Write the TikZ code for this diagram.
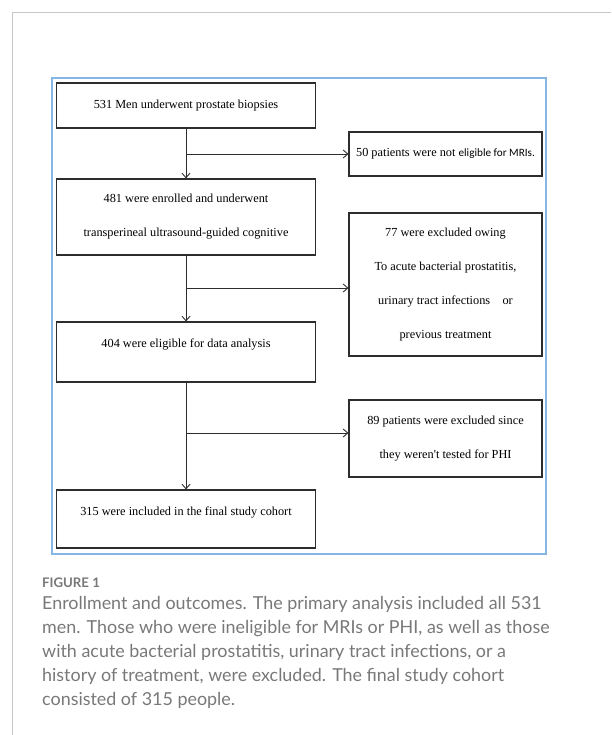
\documentclass[tikz,border=0pt]{standalone}
\usepackage{fontspec}
\setmainfont{Liberation Serif}
\newfontfamily\plainserif{Liberation Serif}[Ligatures=TeXOff]
\newfontfamily\calibrifont{Carlito}
\newfontfamily\captionfont{Lato}
\usetikzlibrary{positioning, arrows.meta}
\definecolor{framegray}{RGB}{200,200,200}
\definecolor{frameblue}{RGB}{132,182,230}
\definecolor{boxline}{RGB}{45,45,45}
\definecolor{captiongray}{RGB}{120,120,120}

\begin{document}
\begin{tikzpicture}[x=1pt, y=-1pt, node distance=110pt, >={Straight Barb[length=4.5pt,width=8pt]}]
    % Stili
    \tikzstyle{block} = [draw=boxline, line width=1.2pt, rectangle, minimum width=259pt, align=center, inner sep=0pt, font=\fontsize{12.3}{34}\selectfont]
    \tikzstyle{sidebox} = [block, minimum width=193pt]
    \tikzstyle{line} = [draw=boxline, line width=0.9pt]

    \useasboundingbox (0,0) rectangle (611,735);

    % Cornici
    \draw [framegray, line width=0.8pt] (611,12) -- (12,12) -- (12,735);
    \draw [frameblue, line width=1.2pt] (52,78) rectangle (546,554);

    % Nodi
    \node [block, minimum height=45pt] (men) at (186,105.5) {531 Men underwent prostate biopsies};
    \node [block, minimum height=76pt, below of=men, node distance=111.5pt] (enrolled) {481 were enrolled and underwent\\transperineal ultrasound-guided cognitive};
    \node [block, minimum height=60pt, text height=8pt, text depth=18pt, below of=enrolled, node distance=135pt] (eligible) {404 were eligible for data analysis};
    \node [block, minimum height=58pt, text height=8pt, text depth=16pt, below of=eligible, node distance=167pt] (cohort) {315 were included in the final study cohort};

    \node [sidebox, minimum height=44pt] (nomri) at (445.5,154) {50 patients were not {\calibrifont\fontsize{11.2}{12}\selectfont eligible for MRIs.}};
    \node [sidebox, minimum height=143pt, below of=nomri, node distance=130.5pt] (infection) {77 were excluded owing\\To acute bacterial prostatitis,\\urinary tract infections\ \ \ \ or\\previous treatment};
    \node [sidebox, minimum height=77pt, below of=infection, node distance=154pt] (nophi) {89 patients were excluded since\\they weren{\plainserif '}t tested for PHI};

    % Diramazioni
    \coordinate (split1) at (men.south |- nomri.west);
    \coordinate (split2) at (186,288);
    \coordinate (split3) at (186,433);

    % Collegamenti
    \draw [line, ->] (men) -- (enrolled);
    \draw [line, ->] (enrolled) -- (eligible);
    \draw [line, ->] (eligible) -- (cohort);
    \draw [line, ->] (split1) -- (nomri);
    \draw [line, ->] (split2) -- (split2 -| infection.west);
    \draw [line, ->] (split3) -- (split3 -| nophi.west);

    % Didascalia
    \node [anchor=west, inner sep=0pt, text=captiongray, font=\captionfont\bfseries\fontsize{13.2}{15}\selectfont] (figlabel) at (42,583) {FIGURE 1};
    \node [anchor=north west, inner sep=0pt, align=left, text=captiongray, font=\captionfont\fontsize{17.9}{24}\selectfont] (caption) at (42,596.5) {Enrollment and outcomes. The primary analysis included all 531\\men. Those who were ineligible for MRIs or PHI, as well as those\\with acute bacterial prostatitis, urinary tract infections, or a\\history of treatment, were excluded. The final study cohort\\consisted of 315 people.};
\end{tikzpicture}
\end{document}
